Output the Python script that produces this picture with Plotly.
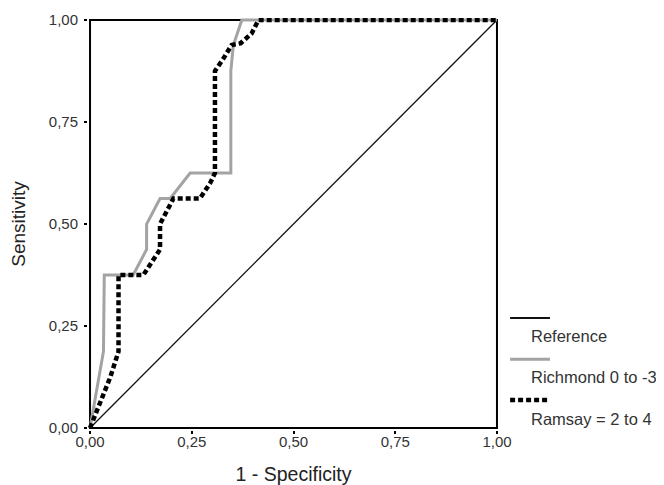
import plotly.graph_objects as go

# ---- data ----
reference_x = [0.0, 1.0]
reference_y = [0.0, 1.0]

richmond_x = [0.0, 0.033, 0.035, 0.106, 0.139, 0.139, 0.172, 0.197, 0.246, 0.346, 0.346, 0.352, 0.373, 1.0]
richmond_y = [0.0, 0.1875, 0.375, 0.375, 0.4375, 0.5, 0.5625, 0.5625, 0.625, 0.625, 0.875, 0.9375, 1.0, 1.0]

ramsay_x = [0.0, 0.025, 0.05, 0.07, 0.07, 0.131, 0.172, 0.172, 0.192, 0.205, 0.270, 0.295, 0.307, 0.307, 0.328, 0.348, 0.370, 0.397, 0.414, 1.0]
ramsay_y = [0.0, 0.06, 0.125, 0.1875, 0.375, 0.375, 0.4375, 0.5, 0.5375, 0.5625, 0.5625, 0.60, 0.625, 0.875, 0.906, 0.939, 0.943, 0.967, 1.0, 1.0]

tick_vals = [0, 0.25, 0.5, 0.75, 1.0]
tick_text = ["0,00", "0,25", "0,50", "0,75", "1,00"]

legend_labels = ["Reference", "Richmond 0 to -3", "Ramsay = 2 to 4"]

FONT = "Liberation Sans, Arial, Helvetica, sans-serif"
PAD = 0.005

fig = go.Figure()
fig.add_trace(go.Scatter(x=reference_x, y=reference_y, mode="lines",
                         line=dict(color="#111111", width=1.3), name=legend_labels[0], showlegend=False))
fig.add_trace(go.Scatter(x=richmond_x, y=richmond_y, mode="lines",
                         line=dict(color="#a3a3a3", width=3), name=legend_labels[1], showlegend=False))
fig.add_trace(go.Scatter(x=ramsay_x, y=ramsay_y, mode="lines",
                         line=dict(color="#000000", width=4.5, dash="5px,3px"), name=legend_labels[2], showlegend=False))

shapes = [
    # plot frame at data box
    dict(type="rect", xref="x", yref="y", x0=0, y0=0, x1=1, y1=1,
         line=dict(color="#000000", width=2), layer="below"),
    # legend samples
    dict(type="line", xref="paper", yref="paper", x0=1.027, x1=1.124, y0=0.272, y1=0.272,
         line=dict(color="#111111", width=2)),
    dict(type="line", xref="paper", yref="paper", x0=1.027, x1=1.124, y0=0.172, y1=0.172,
         line=dict(color="#a3a3a3", width=3)),
    dict(type="line", xref="paper", yref="paper", x0=1.027, x1=1.124, y0=0.073, y1=0.073,
         line=dict(color="#000000", width=4.5, dash="5px,3px")),
]

annotations = []
for lab, yy in zip(legend_labels, [0.228, 0.129, 0.027]):
    annotations.append(dict(text=lab, xref="paper", yref="paper", x=1.073, y=yy,
                            xanchor="left", yanchor="middle", showarrow=False,
                            font=dict(family=FONT, size=16.5, color="#333333")))

axis_common = dict(range=[-PAD, 1 + PAD], tickvals=tick_vals, ticktext=tick_text,
                   ticks="outside", ticklen=3, tickwidth=2, tickcolor="#000000",
                   showgrid=False, zeroline=False, showline=False, automargin=False,
                   tickfont=dict(family=FONT, size=15, color="#333333"),
                   fixedrange=True)

fig.update_layout(
    template="none",
    width=656, height=477,
    margin=dict(l=80, r=165, t=10, b=55, autoexpand=False),
    paper_bgcolor="white", plot_bgcolor="white",
    xaxis=dict(**axis_common, ticklabelstandoff=-5,
               title=dict(text="1 - Specificity", font=dict(family=FONT, size=19.5, color="#222222"), standoff=18)),
    yaxis=dict(**axis_common, ticklabelstandoff=3,
               title=dict(text="Sensitivity", font=dict(family=FONT, size=19, color="#222222"), standoff=19)),
    shapes=shapes,
    annotations=annotations,
    showlegend=False,
)

fig.write_html("out.html")
